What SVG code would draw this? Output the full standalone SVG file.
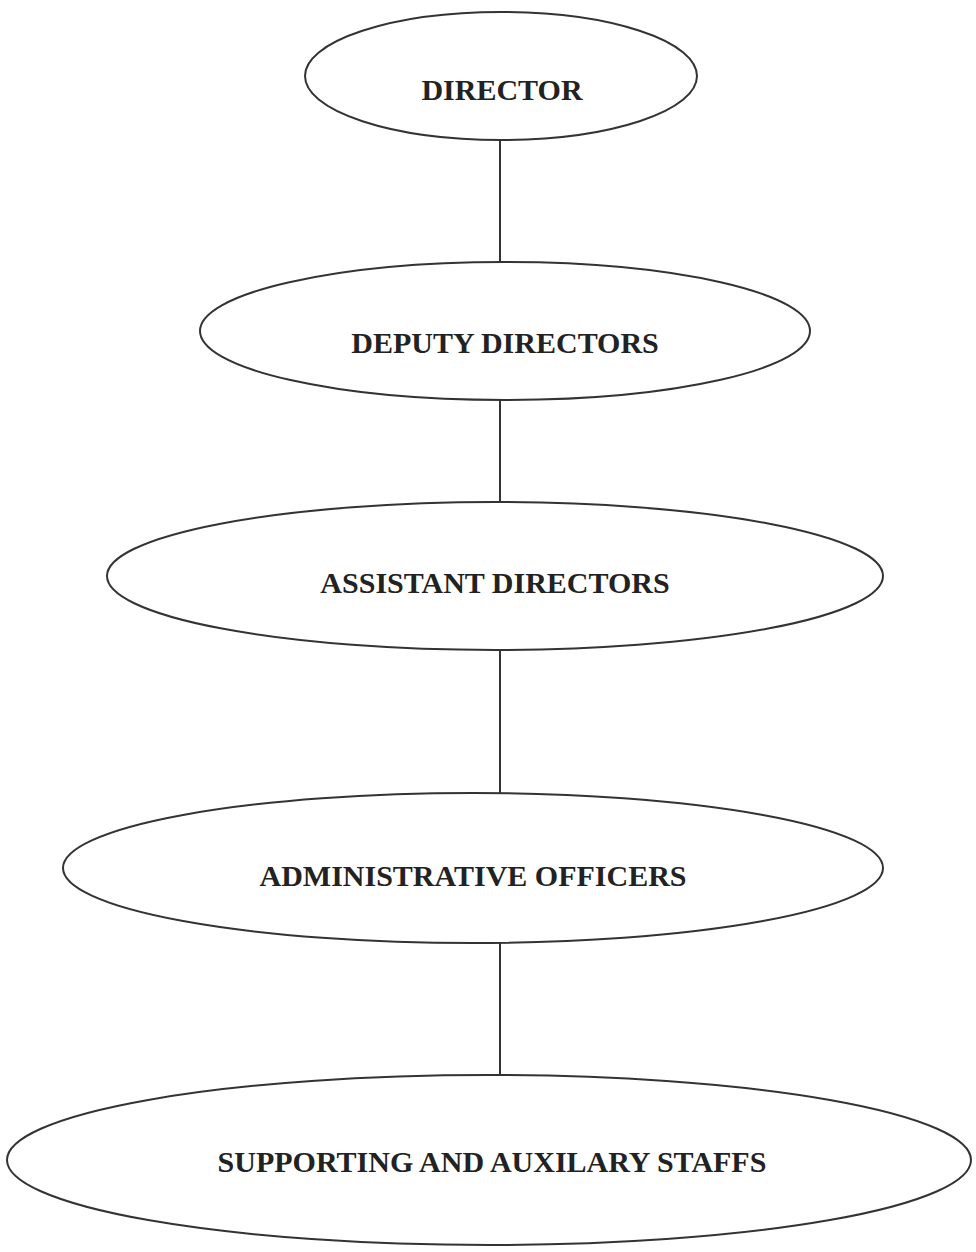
<svg xmlns="http://www.w3.org/2000/svg" width="976" height="1252" viewBox="0 0 976 1252">
<style>
.node{fill:#fff;stroke:#333;stroke-width:2}
.lbl{font-family:"Liberation Serif","Times New Roman",serif;font-weight:bold;font-size:30px;fill:#222;text-anchor:middle}
.conn{stroke:#333;stroke-width:2;fill:none}
</style>
<rect width="976" height="1252" fill="#fff"/>
<g id="connectors">
<line class="conn" x1="500" y1="140" x2="500" y2="262"/>
<line class="conn" x1="500" y1="400" x2="500" y2="502"/>
<line class="conn" x1="500" y1="650" x2="500" y2="793"/>
<line class="conn" x1="500" y1="943" x2="500" y2="1075"/>
</g>
<g id="director">
<ellipse class="node" cx="501" cy="76" rx="196" ry="64"/>
<text class="lbl" x="502" y="100">DIRECTOR</text>
</g>
<g id="deputy-directors">
<ellipse class="node" cx="505" cy="331" rx="305" ry="69"/>
<text class="lbl" x="505" y="353">DEPUTY DIRECTORS</text>
</g>
<g id="assistant-directors">
<ellipse class="node" cx="495" cy="576" rx="388" ry="74"/>
<text class="lbl" x="495" y="593">ASSISTANT DIRECTORS</text>
</g>
<g id="administrative-officers">
<ellipse class="node" cx="473" cy="868" rx="410" ry="75"/>
<text class="lbl" x="473" y="886">ADMINISTRATIVE OFFICERS</text>
</g>
<g id="supporting-staffs">
<ellipse class="node" cx="489" cy="1160" rx="482" ry="85"/>
<text class="lbl" x="492" y="1172">SUPPORTING AND AUXILARY STAFFS</text>
</g>
</svg>
